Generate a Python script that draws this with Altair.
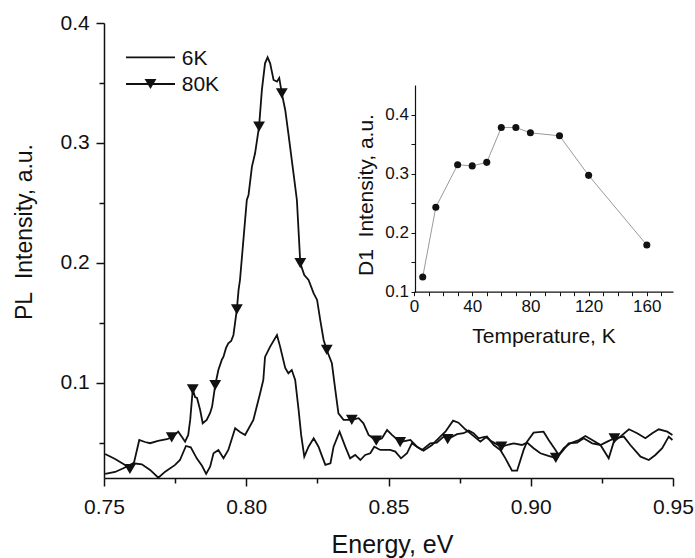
import altair as alt
import pandas as pd

# ---------------- data ----------------
# 80K spectrum (curve with triangle markers)
e80 = [0.7504,0.7539,0.7574,0.7591,0.7606,0.7624,0.7644,0.7662,0.7690,0.7721,0.7738,0.7761,0.7774,0.7785,0.7796,0.7803,0.7812,0.7820,0.7827,0.7838,0.7847,0.7861,0.7873,0.7880,0.7891,0.7902,0.7914,0.7920,0.7929,0.7937,0.7947,0.7955,0.7967,0.7973,0.7978,0.7990,0.8002,0.8008,0.8020,0.8031,0.8045,0.8055,0.8066,0.8075,0.8084,0.8096,0.8108,0.8116,0.8125,0.8137,0.8148,0.8166,0.8178,0.8190,0.8204,0.8219,0.8237,0.8249,0.8260,0.8272,0.8283,0.8301,0.8313,0.8324,0.8342,0.8371,0.8395,0.8412,0.8430,0.8457,0.8477,0.8495,0.8512,0.8541,0.8577,0.8600,0.8618,0.8647,0.8670,0.8694,0.8708,0.8741,0.8764,0.8782,0.8799,0.8817,0.8840,0.8864,0.8897,0.8917,0.8940,0.8969,0.8987,0.9010,0.9034,0.9062,0.9088,0.9110,0.9133,0.9163,0.9186,0.9216,0.9245,0.9269,0.9294,0.9327,0.9350,0.9386,0.9415,0.9438,0.9462,0.9485,0.9498]
i80 = [0.0408,0.0367,0.0317,0.0283,0.0342,0.0525,0.0508,0.0498,0.0517,0.0531,0.0546,0.0594,0.055,0.0511,0.0567,0.0692,0.0947,0.0883,0.0875,0.0775,0.0664,0.0692,0.075,0.0803,0.0983,0.1108,0.1192,0.1219,0.1292,0.1331,0.135,0.14,0.1614,0.1775,0.1858,0.2192,0.2525,0.2567,0.2803,0.2914,0.3136,0.3442,0.3664,0.3714,0.3664,0.3525,0.3511,0.3542,0.3414,0.3275,0.3081,0.2748,0.2525,0.1998,0.19,0.1858,0.1747,0.1692,0.1525,0.1358,0.1275,0.1164,0.0942,0.0747,0.0692,0.0692,0.0706,0.0664,0.0567,0.0519,0.0539,0.0608,0.0567,0.0508,0.0525,0.0469,0.0442,0.0497,0.0503,0.0553,0.0531,0.0573,0.0581,0.0603,0.0581,0.0539,0.0553,0.0511,0.0469,0.0483,0.0497,0.0483,0.0503,0.0456,0.0414,0.0392,0.0375,0.0428,0.0497,0.0503,0.0539,0.0497,0.0483,0.0511,0.0539,0.0553,0.0483,0.0386,0.0358,0.04,0.0456,0.0553,0.0525]
# triangle marker positions on the 80K curve
mk_e = [0.7591,0.7738,0.7812,0.7891,0.7967,0.8045,0.8125,0.8190,0.8283,0.8371,0.8457,0.8541,0.8708,0.8897,0.9088,0.9294]
mk_i = [0.0283,0.0546,0.0947,0.0983,0.1614,0.3136,0.3414,0.1998,0.1275,0.0692,0.0519,0.0508,0.0531,0.0469,0.0375,0.0539]

# 6K spectrum (plain line)
e6 = [0.7504,0.7539,0.7568,0.7603,0.7633,0.7662,0.7691,0.7715,0.7750,0.7767,0.7788,0.7805,0.7826,0.7845,0.7859,0.7873,0.7885,0.7902,0.7920,0.7937,0.7961,0.7978,0.7996,0.8025,0.8049,0.8060,0.8066,0.8084,0.8108,0.8119,0.8137,0.8148,0.8160,0.8172,0.8184,0.8193,0.8204,0.8219,0.8237,0.8254,0.8266,0.8278,0.8296,0.8307,0.8328,0.8348,0.8365,0.8383,0.8401,0.8418,0.8436,0.8450,0.8471,0.8506,0.8524,0.8544,0.8565,0.8582,0.8600,0.8623,0.8653,0.8682,0.8700,0.8727,0.8746,0.8770,0.8794,0.8823,0.8846,0.8870,0.8893,0.8911,0.8934,0.8952,0.8975,0.8987,0.9010,0.9045,0.9063,0.9087,0.9098,0.9116,0.9139,0.9169,0.9192,0.9216,0.9245,0.9274,0.9292,0.9315,0.9345,0.9374,0.9403,0.9427,0.9450,0.9480,0.9498]
i6 = [0.0242,0.0258,0.0289,0.0331,0.0322,0.0275,0.0210,0.0261,0.0317,0.0358,0.0475,0.0464,0.0372,0.0308,0.0242,0.0303,0.0414,0.0442,0.0372,0.0442,0.0622,0.0592,0.0567,0.0692,0.0917,0.1025,0.1217,0.1303,0.1400,0.1303,0.1125,0.1081,0.1108,0.1025,0.0775,0.0567,0.0386,0.0469,0.0539,0.0469,0.0392,0.0317,0.0331,0.0469,0.0594,0.0469,0.0372,0.0400,0.0358,0.0400,0.0414,0.0469,0.0442,0.0442,0.0428,0.0372,0.0414,0.0497,0.0469,0.0436,0.0483,0.0553,0.0594,0.0686,0.0669,0.0614,0.0567,0.0511,0.0553,0.0483,0.0442,0.0372,0.0269,0.0269,0.0442,0.0511,0.0586,0.0594,0.0525,0.0442,0.0400,0.0456,0.0497,0.0525,0.0558,0.0525,0.0483,0.0372,0.0511,0.0553,0.0614,0.0581,0.0539,0.0581,0.0614,0.0594,0.0567]

# inset: D1 intensity vs temperature
temps = [6, 15, 30, 40, 50, 60, 70, 80, 100, 120, 160]
d1 = [0.125, 0.243, 0.315, 0.313, 0.319, 0.378, 0.378, 0.369, 0.364, 0.297, 0.179]

legend_labels = ["6K", "80K"]

# tick values
x_major = [0.75, 0.80, 0.85, 0.90, 0.95]
x_minor = [0.775, 0.825, 0.875, 0.925]
y_major = [0.1, 0.2, 0.3, 0.4]
y_minor = [0.05, 0.15, 0.25, 0.35]
t_ticks = [0, 10, 20, 30, 40, 50, 60, 70, 80, 90, 100, 110, 120, 130, 140, 150, 160, 170]
d_ticks = [0.1, 0.15, 0.2, 0.25, 0.3, 0.35, 0.4]

# ---------------- tables ----------------
df80 = pd.DataFrame({"E": e80, "I": i80})
df6 = pd.DataFrame({"E": e6, "I": i6})
dfm = pd.DataFrame({"E": mk_e, "I": mk_i})
dfin = pd.DataFrame({"T": temps, "D1": d1})
dfl1 = pd.DataFrame({"label": [legend_labels[0]]})
dfl2 = pd.DataFrame({"label": [legend_labels[1]]})

FONT = "Liberation Sans"
INK = "#111111"

sc_x = alt.Scale(domain=[0.75, 0.95], nice=False, zero=False)
sc_y = alt.Scale(domain=[0.0208, 0.4], nice=False, zero=False)

ax_x = alt.Axis(values=x_major, format=".2f", orient="bottom", grid=False,
                tickSize=8, tickWidth=1.5, tickColor=INK,
                domainColor=INK, domainWidth=1.5,
                labelFont=FONT, labelFontSize=21, labelColor=INK,
                labelBaseline="alphabetic", labelPadding=27,
                labelFlush=False, labelOverlap=False,
                title="Energy, eV", titleFont=FONT, titleFontSize=25,
                titleFontWeight="normal", titleColor=INK,
                titleX=288, titleY=74.7, titleBaseline="alphabetic")
ax_y = alt.Axis(values=y_major, format=".1f", orient="left", grid=False,
                tickSize=8, tickWidth=1.5, tickColor=INK,
                domainColor=INK, domainWidth=1.5,
                labelFont=FONT, labelFontSize=21, labelColor=INK,
                labelBaseline="middle", labelPadding=6.7,
                labelFlush=False, labelOverlap=False,
                title="PL\u00a0 Intensity, a.u.", titleFont=FONT, titleFontSize=23,
                titleFontWeight="normal", titleColor=INK,
                titleX=-73, titleY=208.5, titleBaseline="alphabetic", titleAngle=270)

X = alt.X("E:Q", scale=sc_x, axis=ax_x)
Y = alt.Y("I:Q", scale=sc_y, axis=ax_y)

line6 = alt.Chart(df6).mark_line(color=INK, strokeWidth=1.8).encode(x=X, y=Y, order="E:Q")
line80 = alt.Chart(df80).mark_line(color=INK, strokeWidth=1.8).encode(x=X, y=Y, order="E:Q")
marks80 = alt.Chart(dfm).mark_point(shape="triangle-down", filled=True, size=140,
                                    color=INK, opacity=1).encode(x=X, y=Y)
main = alt.layer(line6, line80, marks80)

# minor ticks of the main axes
ax_xm = alt.Axis(values=x_minor, orient="bottom", grid=False, labels=False, domain=False,
                 tickSize=5, tickWidth=1.5, tickColor=INK, title="")
ax_ym = alt.Axis(values=y_minor, orient="left", grid=False, labels=False, domain=False,
                 tickSize=5, tickWidth=1.5, tickColor=INK, title="")
minor = alt.Chart(df6).mark_point(opacity=0).encode(
    x=alt.X("E:Q", scale=alt.Scale(domain=[0.75, 0.95], nice=False, zero=False), axis=ax_xm),
    y=alt.Y("I:Q", scale=alt.Scale(domain=[0.0208, 0.4], nice=False, zero=False), axis=ax_ym),
)

# inset
sc_t = alt.Scale(domain=[0, 178], range=[310, 569], nice=False, zero=False)
sc_d = alt.Scale(domain=[0.1, 0.45], range=[268.7, 62], nice=False, zero=False)
ax_t = alt.Axis(values=t_ticks, labelExpr="datum.value % 40 == 0 ? datum.label : ''",
                orient="bottom", offset=-186.3, grid=False,
                tickSize=4, tickWidth=1, tickColor=INK, domainColor=INK, domainWidth=1.2,
                labelFont=FONT, labelFontSize=17, labelColor=INK,
                labelBaseline="alphabetic", labelPadding=16,
                labelFlush=False, labelOverlap=False,
                title="Temperature, K", titleFont=FONT, titleFontSize=21,
                titleFontWeight="normal", titleColor=INK,
                titleY=51, titleBaseline="alphabetic")
ax_d = alt.Axis(values=d_ticks,
                labelExpr="abs(datum.value*10 - round(datum.value*10)) < 0.01 ? format(datum.value, '.1f') : ''",
                orient="left", offset=-311, grid=False,
                tickSize=4, tickWidth=1, tickColor=INK, domainColor=INK, domainWidth=1.2,
                labelFont=FONT, labelFontSize=17, labelColor=INK,
                labelBaseline="middle", labelPadding=2.5,
                labelFlush=False, labelOverlap=False,
                title="D1\u00a0 Intensity, a.u.", titleFont=FONT, titleFontSize=21,
                titleFontWeight="normal", titleColor=INK,
                titleX=-43, titleY=171.5, titleBaseline="alphabetic", titleAngle=270)
XT = alt.X("T:Q", scale=sc_t, axis=ax_t)
YD = alt.Y("D1:Q", scale=sc_d, axis=ax_d)
in_line = alt.Chart(dfin).mark_line(color="#9a9a9a", strokeWidth=1).encode(x=XT, y=YD)
in_pts = alt.Chart(dfin).mark_point(shape="circle", filled=True, size=50, color=INK, opacity=1).encode(x=XT, y=YD)
inset = alt.layer(in_line, in_pts)

# legend
leg_r1 = alt.Chart(dfl1).mark_rule(color=INK, strokeWidth=1.8).encode(
    x=alt.value(22), x2=alt.value(71), y=alt.value(34.3))
leg_t1 = alt.Chart(dfl1).mark_text(font=FONT, fontSize=21, color=INK, align="left", baseline="middle").encode(
    x=alt.value(77.7), y=alt.value(35.5), text="label:N")
leg_r2 = alt.Chart(dfl2).mark_rule(color=INK, strokeWidth=1.8).encode(
    x=alt.value(22), x2=alt.value(71), y=alt.value(61))
leg_m2 = alt.Chart(dfl2).mark_point(shape="triangle-down", filled=True, size=140, color=INK, opacity=1).encode(
    x=alt.value(46.5), y=alt.value(61))
leg_t2 = alt.Chart(dfl2).mark_text(font=FONT, fontSize=21, color=INK, align="left", baseline="middle").encode(
    x=alt.value(77.7), y=alt.value(62), text="label:N")

chart = alt.layer(main, minor, inset, leg_r1, leg_t1, leg_r2, leg_m2, leg_t2).resolve_scale(
    x="independent", y="independent"
).properties(
    width=569, height=455,
    autosize=alt.AutoSizeParams(type="none"),
    padding={"left": 104, "top": 23, "right": 22, "bottom": 80},
    background="white",
).configure_view(strokeWidth=0)

chart.save("out.html", embed_options={"renderer": "svg", "actions": False})
